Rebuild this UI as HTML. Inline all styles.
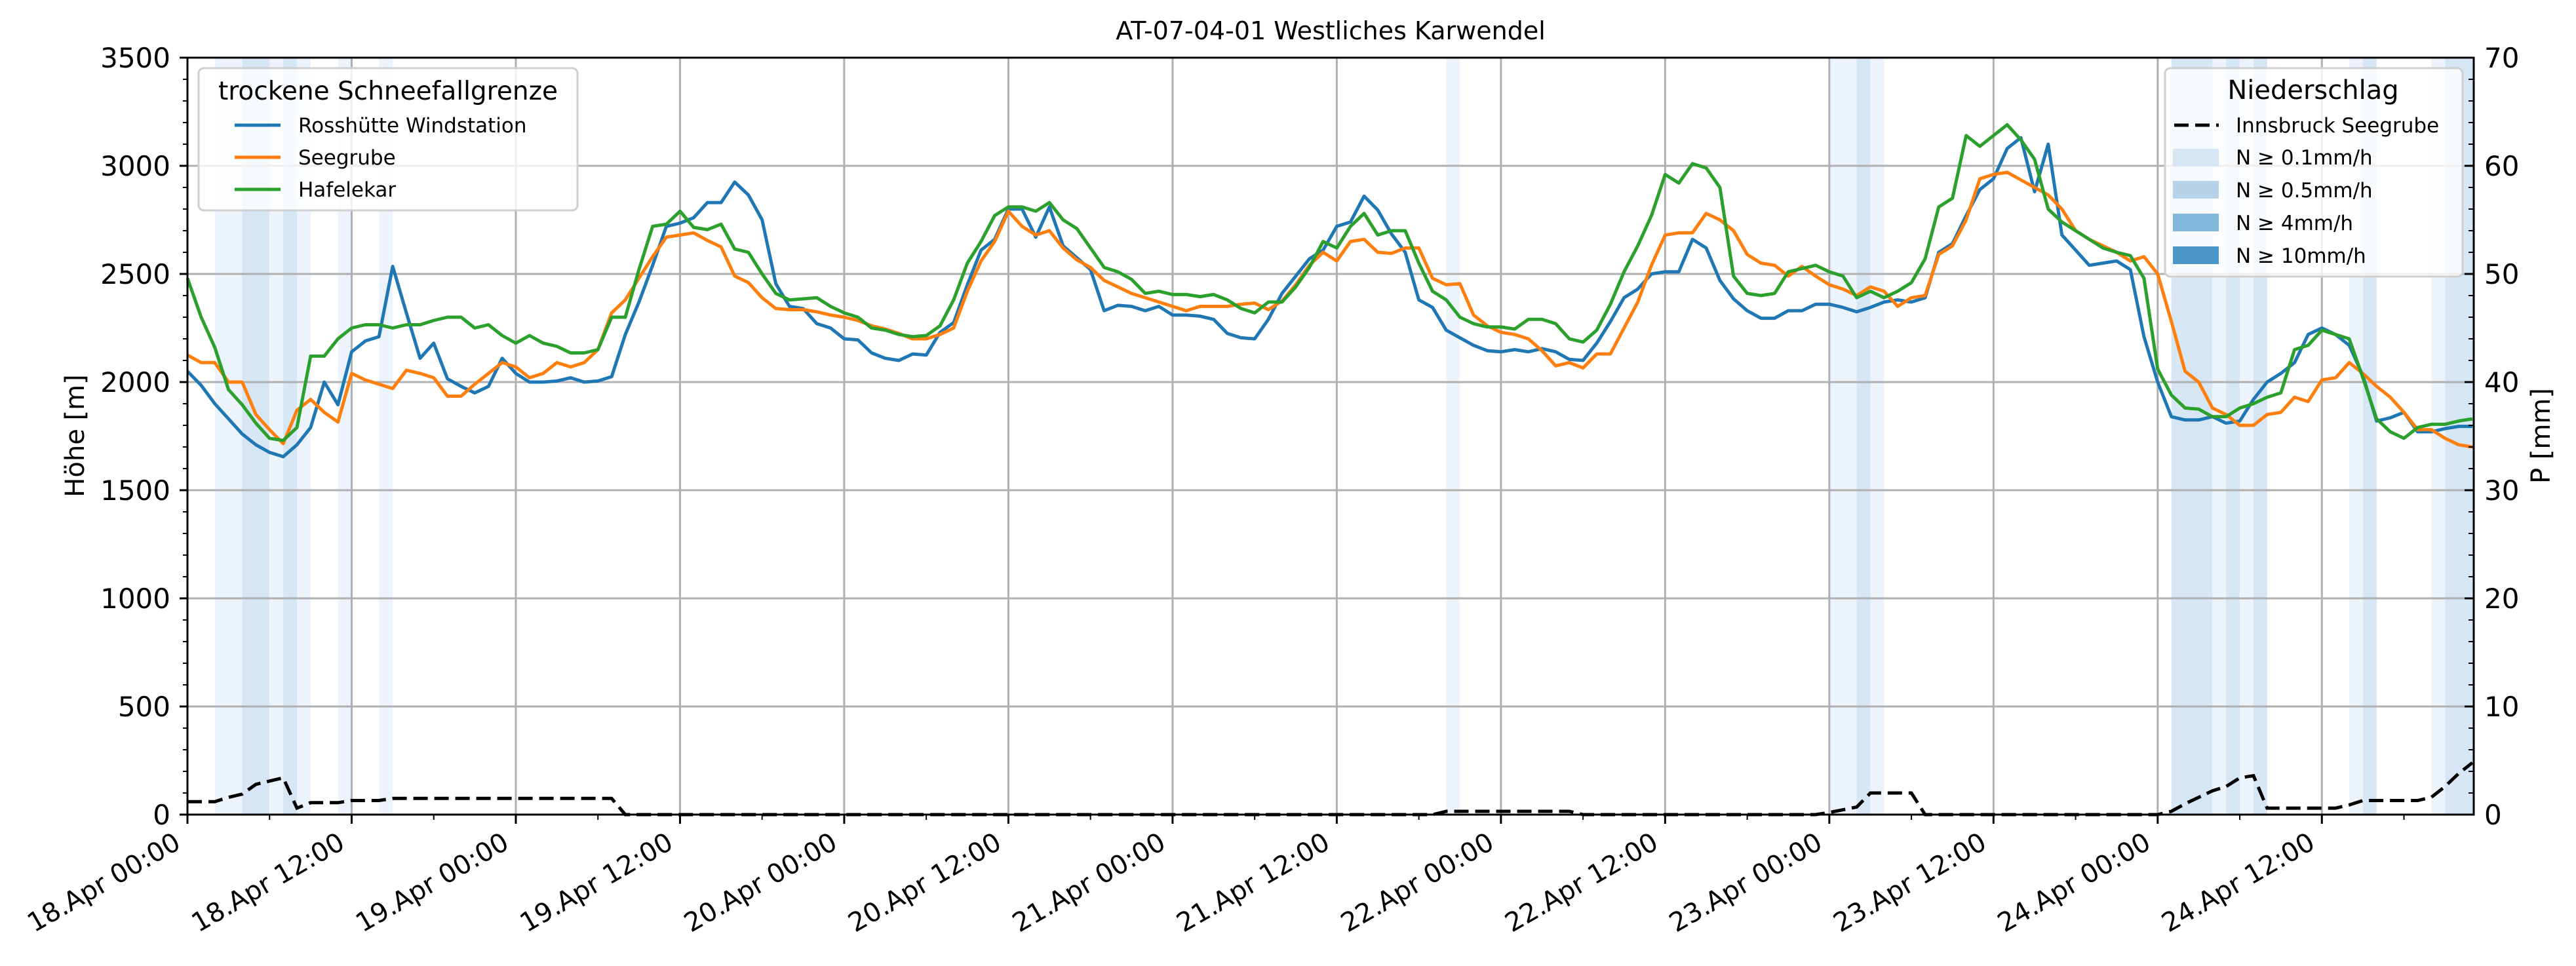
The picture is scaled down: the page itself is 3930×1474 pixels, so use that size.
<!DOCTYPE html>
<html><head><meta charset="utf-8"><style>
html,body{margin:0;padding:0;background:#fff;}
svg{display:block;font-family:"DejaVu Sans","Liberation Sans",sans-serif;}
</style></head><body>
<svg id="chart" width="3930" height="1474" viewBox="0 0 3930 1474" xmlns="http://www.w3.org/2000/svg">
<rect x="0" y="0" width="3930" height="1474" fill="#fff"/>
<g id="bands"></g>
<g id="grid"></g>
<g id="series"></g>
<g id="axes"></g>
<text x="2030" y="60" font-size="38" text-anchor="middle">AT-07-04-01 Westliches Karwendel</text>
<text transform="translate(128,665) rotate(-90)" font-size="40" text-anchor="middle">Höhe [m]</text>
<text transform="translate(3890,665) rotate(-90)" font-size="40" text-anchor="middle">P [mm]</text>
<g>
<rect x="303" y="104" width="578" height="217" rx="8" fill="#fff" fill-opacity="0.8" stroke="#d0d0d0" stroke-width="3"/>
<text x="592" y="152" font-size="39" text-anchor="middle">trockene Schneefallgrenze</text>
<line x1="358" y1="191" x2="428" y2="191" stroke="#1f77b4" stroke-width="5"/>
<text x="455" y="202" font-size="31">Rosshütte Windstation</text>
<line x1="358" y1="240" x2="428" y2="240" stroke="#ff7f0e" stroke-width="5"/>
<text x="455" y="251" font-size="31">Seegrube</text>
<line x1="358" y1="289" x2="428" y2="289" stroke="#2ca02c" stroke-width="5"/>
<text x="455" y="300" font-size="31">Hafelekar</text>
</g>
<g>
<rect x="3303" y="104" width="454" height="318" rx="8" fill="#fff" fill-opacity="0.8" stroke="#d0d0d0" stroke-width="3"/>
<text x="3529" y="151" font-size="40" text-anchor="middle">Niederschlag</text>
<line x1="3317" y1="191" x2="3385" y2="191" stroke="#000" stroke-width="5" stroke-dasharray="22,10"/>
<text x="3411" y="202" font-size="31">Innsbruck Seegrube</text>
<rect x="3315" y="227" width="70" height="27" fill="#d6e6f4"/>
<text x="3411" y="251" font-size="31">N ≥ 0.1mm/h</text>
<rect x="3315" y="276" width="70" height="27" fill="#b6d3ea"/>
<text x="3411" y="301" font-size="31">N ≥ 0.5mm/h</text>
<rect x="3315" y="326" width="70" height="27" fill="#82b6da"/>
<text x="3411" y="351" font-size="31">N ≥ 4mm/h</text>
<rect x="3315" y="376" width="70" height="27" fill="#4a96c9"/>
<text x="3411" y="401" font-size="31">N ≥ 10mm/h</text>
</g>
</svg>
<script>
const rosshuette = [2050,1985,1900,1830,1760,1710,1675,1655,1710,1790,2000,1895,2140,2190,2210,2535,2320,2110,2180,2015,1980,1950,1980,2110,2040,2000,2000,2005,2020,2000,2005,2025,2220,2370,2540,2720,2735,2760,2830,2830,2925,2865,2750,2455,2350,2340,2270,2250,2200,
2195,2135,2110,2100,2130,2125,2230,2275,2450,2610,2660,2800,2800,2670,2810,2630,2575,2520,2330,2355,2350,2330,2350,2310,2310,2305,2290,2225,2205,2200,2290,2410,2490,2570,2610,2720,2740,2860,2795,2685,2600,2380,2345,2240,2205,2170,2145,2140,2150,2140,2155,2140,2105,2100,2180,2280,2390,2430,2500,2510,2510,2660,
2620,2470,2385,2330,2295,2295,2330,2330,2360,2360,2345,2325,2345,2370,2380,2370,2390,2600,2640,2770,2890,2940,3080,3130,2880,3100,2680,2610,2540,2550,2560,2520,2210,2000,1840,1825,1825,1840,1810,1820,1920,2000,2040,2090,2220,2250,2220,2170,2030,1820,1835,1860,1770,1770,1785,1795,1795];
const seegrube = [2125,2090,2090,2000,2000,1850,1780,1715,1870,1920,1860,1815,2040,2010,1990,1970,2055,2040,2020,1935,1935,1990,2040,2090,2070,2020,2040,2090,2070,2090,2150,2320,2380,2480,2580,2670,2680,2690,2655,2625,2490,2460,2390,2340,2335,2335,2325,2310,2300,
2285,2260,2245,2225,2200,2200,2220,2250,2420,2560,2650,2790,2720,2680,2700,2620,2565,2530,2470,2440,2410,2390,2370,2350,2330,2350,2350,2350,2360,2365,2335,2375,2450,2540,2600,2560,2650,2660,2600,2595,2620,2620,2480,2450,2455,2310,2260,2230,2220,2200,2145,2075,2090,2065,2130,2130,2250,2370,2540,2680,2690,2690,2780,
2750,2700,2590,2550,2540,2490,2535,2490,2450,2430,2400,2440,2420,2350,2390,2400,2590,2630,2750,2940,2960,2970,2935,2900,2865,2800,2700,2660,2630,2600,2560,2580,2500,2280,2050,2000,1880,1850,1800,1800,1850,1860,1930,1910,2010,2020,2090,2040,1980,1930,1860,1780,1780,1740,1710,1700,1700];
const hafelekar = [2480,2300,2160,1965,1895,1810,1740,1730,1790,2120,2120,2200,2250,2265,2265,2250,2265,2265,2285,2300,2300,2250,2265,2215,2180,2215,2180,2165,2135,2135,2150,2300,2300,2520,2720,2730,2790,2715,2705,2730,2615,2600,2500,2410,2380,2385,2390,2350,2320,
2300,2250,2240,2220,2210,2215,2260,2380,2550,2650,2770,2810,2810,2790,2830,2750,2710,2620,2530,2510,2475,2410,2420,2405,2405,2395,2405,2380,2340,2320,2370,2370,2440,2530,2650,2620,2720,2780,2680,2700,2700,2550,2420,2380,2300,2270,2255,2255,2245,2290,2290,2270,2200,2185,2240,2360,2510,2630,2770,2960,2920,3010,
2990,2900,2490,2410,2400,2410,2510,2525,2540,2510,2490,2390,2420,2390,2420,2460,2570,2810,2850,3140,3090,3140,3190,3120,3030,2800,2740,2700,2660,2620,2600,2585,2480,2060,1940,1880,1875,1840,1840,1880,1900,1930,1950,2150,2170,2240,2220,2200,2020,1830,1770,1740,1790,1805,1805,1820,1830];
// precipitation Innsbruck Seegrube [mm] at hour indices
const precipHours  = [0,2,3,4,5,6,7,8,9,11,12,14,15,31,32,91,92,101,102,119,120,122,123,126,127,144,145,146,147,148,149,150,151,152,157,158,159,163,164,165,166,167];
const precipValues = [1.2,1.2,1.6,1.9,2.8,3.1,3.4,0.6,1.1,1.1,1.3,1.3,1.5,1.5,0,0,0.3,0.3,0,0,0.2,0.7,2.0,2.0,0,0,0.3,1.0,1.6,2.2,2.6,3.4,3.6,0.6,0.6,0.9,1.3,1.3,1.6,2.6,3.8,4.8];
// precipitation classes: level 1 = light, 2 = medium
const bandStart = [2,4,6,7,8,11,14,92,120,122,123,145,148,149,150,151,158,159,164,165];
const bandEnd   = [4,6,7,8,9,12,15,93,122,123,124,148,149,150,151,152,159,160,165,168];
const bandLevel = [1,2,1,2,1,1,1,1,1,2,1,2,1,2,1,2,1,2,1,2];
const xTickLabels = ["18.Apr 00:00","18.Apr 12:00","19.Apr 00:00","19.Apr 12:00","20.Apr 00:00","20.Apr 12:00","21.Apr 00:00","21.Apr 12:00","22.Apr 00:00","22.Apr 12:00","23.Apr 00:00","23.Apr 12:00","24.Apr 00:00","24.Apr 12:00"];
const yTicks = [0,500,1000,1500,2000,2500,3000,3500];
const y2Ticks = [0,10,20,30,40,50,60,70];

const NS="http://www.w3.org/2000/svg";
const L=286,R=3774,T=88,B=1243,HMAX=167.1;
const x=h=>Math.min(R,L+(R-L)*h/HMAX);
const y=v=>B-(B-T)*v/3500;
const y2=v=>B-(B-T)*v/70;
function mk(tag,attrs,parent){const e=document.createElementNS(NS,tag);for(const k in attrs)e.setAttribute(k,attrs[k]);parent.appendChild(e);return e;}
const gB=document.getElementById('bands'),gG=document.getElementById('grid'),gS=document.getElementById('series'),gA=document.getElementById('axes');
const bandColors=["","#edf3fa","#d6e6f4"];
bandStart.forEach((s,i)=>{
  const r=mk('rect',{x:x(s),y:T,width:x(bandEnd[i])-x(s),height:B-T,fill:bandColors[bandLevel[i]]},gB);
  
  
});
xTickLabels.forEach((lab,i)=>{
  const l=mk('line',{x1:x(i*12),x2:x(i*12),y1:T,y2:B,stroke:'#b0b0b0','stroke-width':3},gG);
  
  
});
yTicks.forEach(v=>{
  const l=mk('line',{x1:L,x2:R,y1:y(v),y2:y(v),stroke:'#b0b0b0','stroke-width':3},gG);
  
  
});
function poly(arr,color,name){
  const pts=arr.map((v,i)=>x(i).toFixed(1)+','+y(v).toFixed(1)).join(' ');
  const p=mk('polyline',{points:pts,fill:'none',stroke:color,'stroke-width':5,'stroke-linejoin':'round'},gS);
  
  
}
const ppts=precipHours.map((h,i)=>x(h).toFixed(1)+','+y2(precipValues[i]).toFixed(1));
const pl=mk('polyline',{points:ppts.join(' '),fill:'none',stroke:'#000','stroke-width':5,'stroke-dasharray':'22,10'},gS);


poly(rosshuette,'#1f77b4','line-rosshuette');
poly(seegrube,'#ff7f0e','line-seegrube');
poly(hafelekar,'#2ca02c','line-hafelekar');
const fr=mk('rect',{x:L,y:T,width:R-L,height:B-T,fill:'none',stroke:'#000','stroke-width':3},gA);


yTicks.forEach(v=>{
  mk('line',{x1:L-12,x2:L,y1:y(v),y2:y(v),stroke:'#000','stroke-width':3},gA);
  const t=mk('text',{x:L-26,y:y(v)+15,'font-size':42,'text-anchor':'end'},gA);
  t.textContent=v;
  
  
});
for(let v=100;v<3500;v+=100){ if(v%500) mk('line',{x1:L-7,x2:L,y1:y(v),y2:y(v),stroke:'#000','stroke-width':2},gA); }
y2Ticks.forEach(v=>{
  mk('line',{x1:R-14,x2:R,y1:y2(v),y2:y2(v),stroke:'#000','stroke-width':3},gA);
  const t=mk('text',{x:R+16,y:y2(v)+15,'font-size':42},gA);
  t.textContent=v;
  
  
});
for(let v=2;v<70;v+=2){ if(v%10) mk('line',{x1:R-8,x2:R,y1:y2(v),y2:y2(v),stroke:'#000','stroke-width':2},gA); }
xTickLabels.forEach((lab,i)=>{
  const xx=x(i*12);
  mk('line',{x1:xx,x2:xx,y1:B,y2:B+14,stroke:'#000','stroke-width':3},gA);
  mk('line',{x1:x(i*12+6),x2:x(i*12+6),y1:B,y2:B+8,stroke:'#000','stroke-width':2},gA);
  const t=mk('text',{transform:`translate(${xx-8},${B+50}) rotate(-30)`,'font-size':40,'text-anchor':'end'},gA);
  t.textContent=lab;
  
  
});
</script>
</body></html>
